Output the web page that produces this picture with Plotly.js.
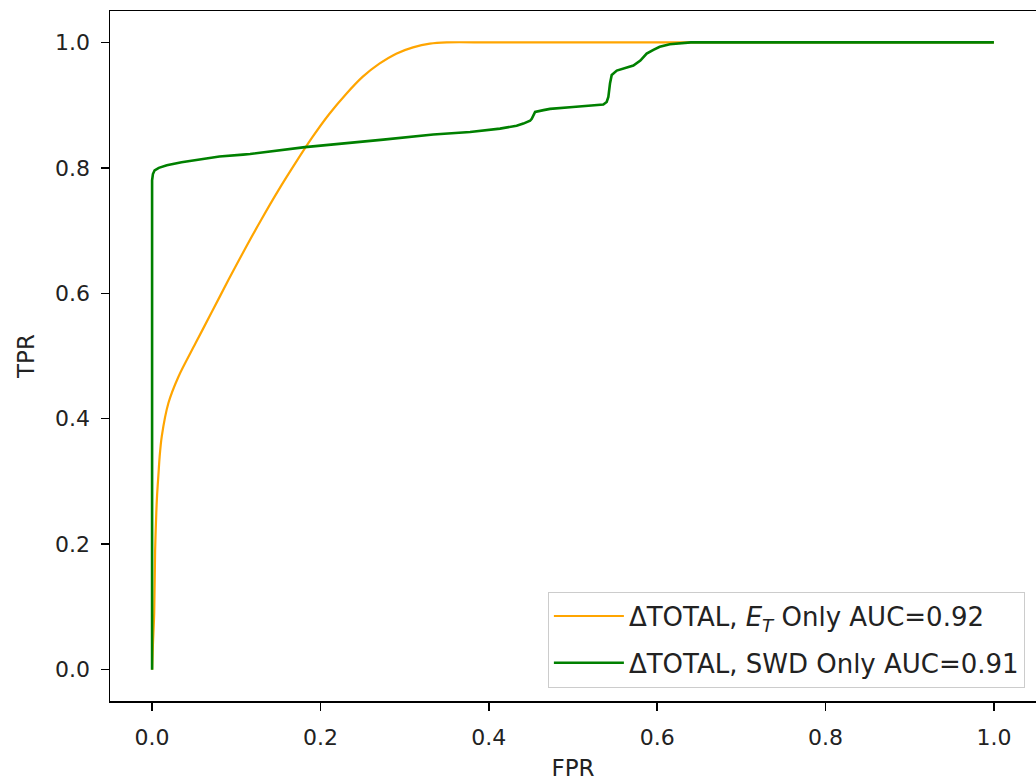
<!DOCTYPE html>
<html>
<head>
<meta charset="utf-8">
<script src="https://cdn.plot.ly/plotly-3.0.1.min.js"></script>
<style>html,body{margin:0;padding:0;background:#fff;}#chart{width:1036px;height:781px;}</style>
</head>
<body>
<div id="chart"></div>
<script>
// ΔTOTAL, E_T only ROC curve
var etFpr = [0, 0.001, 0.0025, 0.0036, 0.005, 0.006, 0.0075, 0.009, 0.0115, 0.0194, 0.0313, 0.0511, 0.0709, 0.0906, 0.1105, 0.13, 0.15, 0.17, 0.19, 0.21, 0.23, 0.25, 0.27, 0.29, 0.31, 0.33, 0.35, 0.4, 0.5, 0.7, 0.9, 1.0];
var etTpr = [0, 0.04, 0.09, 0.19, 0.25, 0.28, 0.31, 0.34, 0.372, 0.425, 0.467, 0.519, 0.570, 0.621, 0.671, 0.718, 0.764, 0.807, 0.848, 0.885, 0.917, 0.945, 0.966, 0.982, 0.992, 0.998, 1.0, 1.0, 1.0, 1.0, 1.0, 1.0];
// ΔTOTAL, SWD only ROC curve
var swdFpr = [0, 0, 0.001, 0.003, 0.008, 0.0175, 0.035, 0.057, 0.08, 0.108, 0.1164, 0.1817, 0.255, 0.2747, 0.334, 0.3777, 0.4133, 0.433, 0.441, 0.449, 0.451, 0.453, 0.455, 0.465, 0.4727, 0.50, 0.536, 0.540, 0.542, 0.544, 0.546, 0.552, 0.560, 0.5717, 0.58, 0.5875, 0.5955, 0.603, 0.615, 0.627, 0.64, 0.7, 0.8, 0.9, 1.0];
var swdTpr = [0, 0.78, 0.79, 0.796, 0.800, 0.804, 0.809, 0.813, 0.818, 0.821, 0.822, 0.833, 0.842, 0.845, 0.853, 0.857, 0.8625, 0.867, 0.8705, 0.875, 0.878, 0.884, 0.889, 0.892, 0.894, 0.897, 0.901, 0.905, 0.913, 0.935, 0.948, 0.955, 0.958, 0.963, 0.971, 0.982, 0.988, 0.993, 0.997, 0.999, 1.0, 1.0, 1.0, 1.0, 1.0];
var seriesNames = ["ΔTOTAL, <i>E</i><sub><i>T</i></sub> Only AUC=0.92", "ΔTOTAL, SWD Only AUC=0.91"];
var tickVals = [0, 0.2, 0.4, 0.6, 0.8, 1.0];
var tickText = ["0.0", "0.2", "0.4", "0.6", "0.8", "1.0"];

var font = "DejaVu Sans, sans-serif";
var traces = [
  {x: etFpr, y: etTpr, mode: "lines", name: seriesNames[0], legendgroup: "a",
   line: {color: "#FFA500", width: 2.2, shape: "spline", smoothing: 0.8}},
  {x: swdFpr, y: swdTpr, mode: "lines", name: seriesNames[1], legendgroup: "b",
   line: {color: "#008000", width: 2.6}}
];
var axisCommon = {
  showgrid: false, zeroline: false, showline: true, mirror: true,
  linecolor: "#000", linewidth: 1.5, ticks: "outside", ticklen: 8, tickwidth: 1.5,
  tickcolor: "#000", tickvals: tickVals, ticktext: tickText,
  tickfont: {family: font, size: 22, color: "#222"}
};
var layout = {
  width: 1036, height: 781,
  margin: {l: 110, r: 0, t: 11, b: 80},
  paper_bgcolor: "#fff", plot_bgcolor: "#fff",
  showlegend: true,
  xaxis: Object.assign({}, axisCommon, {range: [-0.05, 1.05], ticklabelstandoff: 8,
    title: {text: "FPR", font: {family: font, size: 23, color: "#222"}, standoff: 12}}),
  yaxis: Object.assign({}, axisCommon, {range: [-0.05, 1.05], ticklabelstandoff: 6,
    title: {text: "TPR", font: {family: font, size: 23, color: "#222"}, standoff: 14}}),
  legend: {x: 0.988, y: 0.0194, xanchor: "right", yanchor: "bottom",
    bgcolor: "rgba(255,255,255,0.8)", bordercolor: "#cccccc", borderwidth: 1,
    font: {family: font, size: 26, color: "#222"},
    traceorder: "grouped", tracegroupgap: 10, itemwidth: 70}
};
Plotly.newPlot("chart", traces, layout, {displayModeBar: false, staticPlot: true});
</script>
</body>
</html>
